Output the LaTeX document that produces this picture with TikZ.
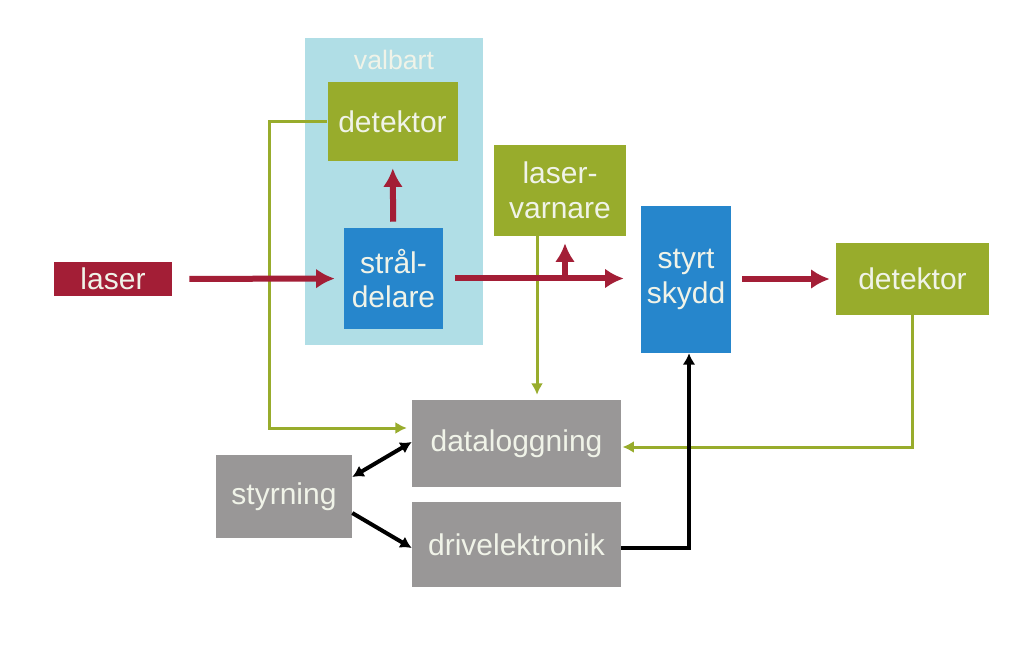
\documentclass[tikz,border=0pt]{standalone}
\usepackage{fontspec}
\setmainfont{Liberation Sans}
\usepackage{xcolor}
\usetikzlibrary{%
arrows.meta,
calc,
positioning,
backgrounds}

\definecolor{beamred}{RGB}{163,30,54}
\definecolor{olive}{RGB}{152,172,44}
\definecolor{unitblue}{RGB}{38,134,204}
\definecolor{unitgray}{RGB}{153,151,151}
\definecolor{optbg}{RGB}{176,222,230}
\definecolor{boxtext}{RGB}{240,243,232}

\begin{document}
\begin{tikzpicture}[x=0.75pt,y=-0.75pt,line join=miter,
  box/.style={rectangle,inner sep=0pt,align=center,text=boxtext,
              font=\fontsize{22.5}{26}\selectfont},
  beam/.style={draw=beamred,line width=4.5pt,-{Latex[length=14pt,width=15pt]}},
  sig/.style={draw=olive,line width=2.25pt,-{Latex[length=8.5pt,width=9pt]}},
  ctl/.style={draw=black,line width=3pt,-{Latex[length=8.5pt,width=9.5pt]}}]
  \useasboundingbox (0,0) rectangle (1020,648);
  \fill[white] (0,0) rectangle (1020,648);
%%
  % Node: optional group
  \node[rectangle,fill=optbg,minimum width=133.5pt,minimum height=230.25pt] (valbg) at (394,191.5) {};
  \node[text=boxtext,font=\fontsize{20}{24}\selectfont] (valbart) at (394,60) {valbart};
  % Node: detA
  \node[box,fill=olive,minimum width=97.5pt,minimum height=59.25pt] (detA) at (392.5,121.5) {detektor};
  % Node: split
  \node[box,fill=unitblue,minimum width=74.25pt,minimum height=75.75pt] (split) at (393.5,278.5) {strål-\\delare};
  % Node: laser
  \node[box,fill=beamred,minimum width=88.5pt,minimum height=25.5pt] (laser) at (113,279) {laser};
  % Node: warn
  \node[box,fill=olive,minimum width=99pt,minimum height=68.25pt] (warn) at (560,190.5) {laser-\\varnare};
  % Node: shutter
  \node[box,fill=unitblue,minimum width=67.5pt,minimum height=110.25pt] (shutter) at (686,279.5) {styrt\\skydd};
  % Node: detB
  \node[box,fill=olive,minimum width=114.75pt,minimum height=54pt] (detB) at (912.5,279) {detektor};
  % Node: log
  \node[box,fill=unitgray,minimum width=156.75pt,minimum height=65.25pt] (log) at (516.5,443.5) {dataloggning};
  % Node: ctrl
  \node[box,fill=unitgray,minimum width=102pt,minimum height=62.25pt] (ctrl) at (284,496.5) {styrning};
  % Node: drive
  \node[box,fill=unitgray,minimum width=156.75pt,minimum height=63.75pt] (drive) at (516.5,544.5) {drivelektronik};
%%
  % Edge: detA -> log
  \draw[sig,shorten >=3.75pt] (detA.west) -- ++(-58,0) |- ($(log.west)+(0,-15.5)$);
  % Edge: warn -> log
  \coordinate (wx) at (537,0);
  \draw[sig,shorten >=3.75pt] (warn.south -| wx) -- (log.north -| wx);
  % Edge: detB -> log
  \draw[sig,shorten >=1pt] (detB.south) |- ($(log.east)+(0,3.5)$);
  % Edge: laser -> split
  \draw[beam,shorten <=12.75pt,shorten >=6.75pt] (laser) -- (split);
  % Edge: split -> detA
  \draw[beam,shorten <=4.5pt,shorten >=5.25pt] (split) -- (detA);
  % Edge: split -> shutter
  \draw[beam,shorten <=9pt,shorten >=12.75pt] (split.east) -- (split.east -| shutter.west);
  % Edge: beam -> warn
  \coordinate (tap) at (565,279);
  \draw[beam,shorten >=5.25pt] (tap) -- (tap |- warn.south);
  % Edge: shutter -> detB
  \draw[beam,shorten <=8.25pt,shorten >=4.5pt] (shutter.east |- detB.west) -- (detB.west);
  % Edge: ctrl <-> log
  \draw[ctl,{Latex[length=8.5pt,width=9.5pt]}-{Latex[length=8.5pt,width=9.5pt]}] ($(ctrl.east)+(0,-19.5)$) -- ($(log.west)+(0,-1.5)$);
  % Edge: ctrl -> drive
  \draw[ctl] ($(ctrl.east)+(0,16.5)$) -- ($(drive.west)+(0,3.5)$);
  % Edge: drive -> shutter
  \draw[ctl] ($(drive.east)+(0,3.5)$) -| ($(shutter.south)+(3,0)$);
%
\end{tikzpicture}
\end{document}
